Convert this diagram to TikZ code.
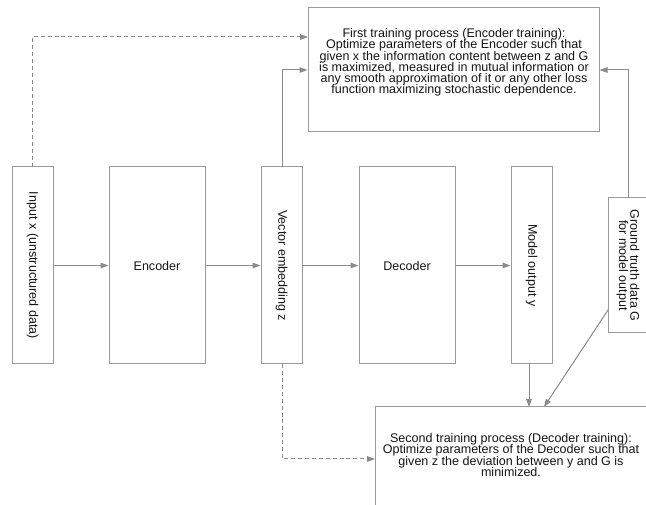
\documentclass[tikz,border=0pt]{standalone}
\usepackage{fontspec}
\setmainfont{Liberation Sans}
\usetikzlibrary{arrows.meta}
\definecolor{boxline}{HTML}{9A9A9A}
\definecolor{arrline}{HTML}{8A8A8A}
\definecolor{txtcol}{HTML}{141414}
\newcommand\mytxtfont{\fontsize{9.4pt}{8.45pt}\selectfont\lineskiplimit=-20pt\relax}
\tikzset{
  box/.style={draw=boxline, line width=0.75pt, fill=white, inner sep=0pt},
  txt/.style={text=txtcol, align=center, inner sep=0pt, font=\mytxtfont},
  conn/.style={draw=arrline, line width=0.75pt, -{Triangle[length=6pt,width=4.2pt]}},
  dconn/.style={conn, dash pattern=on 3pt off 2.2pt},
}
\begin{document}
\begin{tikzpicture}[x=0.75pt,y=-0.75pt]
\useasboundingbox (0,0) rectangle (646,505);
\clip (0,0) rectangle (646,505);
% boxes
\node[box, minimum width=291*0.75pt, minimum height=124*0.75pt] (first) at (453.5,70) {};
\node[txt] (firsttext) at (454,62.5) {First training process (Encoder training):\\Optimize parameters of the Encoder such that\\given x the information content between z and G\\is maximized, measured in mutual information or\\any smooth approximation of it or any other loss\\function maximizing stochastic dependence.};

\node[box, minimum width=41*0.75pt, minimum height=197*0.75pt] (input) at (32.5,265.5) {};
\node[txt, rotate=-90] (inputtext) at (32.5,265.5) {Input x (unstructured data)};

\node[box, minimum width=96*0.75pt, minimum height=197*0.75pt] (enc) at (157,265.5) {};
\node[txt] (enctext) at (157,266) {Encoder};

\node[box, minimum width=41*0.75pt, minimum height=197*0.75pt] (vec) at (281.5,265.5) {};
\node[txt, rotate=-90] (vectext) at (281.5,265.5) {Vector embedding z};

\node[box, minimum width=96*0.75pt, minimum height=197*0.75pt] (dec) at (407,265.5) {};
\node[txt] (dectext) at (407,266) {Decoder};

\node[box, minimum width=41*0.75pt, minimum height=197*0.75pt] (model) at (531.5,265.5) {};
\node[txt, rotate=-90] (modeltext) at (531.5,265.5) {Model output y};

\node[box, minimum width=40*0.75pt, minimum height=135*0.75pt] (gt) at (628,265.5) {};
\node[txt, rotate=-90] (gttext) at (628,265.5) {Ground truth data G\\for model output};

\node[box, minimum width=272*0.75pt, minimum height=130*0.75pt] (second) at (511,472) {};
\node[txt] (secondtext) at (511,455) {Second training process (Decoder training):\\Optimize parameters of the Decoder such that\\given z the deviation between y and G is\\minimized.};

% coordinates
\coordinate (inTop) at (32,167);
\coordinate (c1) at (32,37);
\coordinate (t1) at (308,37);
\coordinate (vecTop) at (282,167);
\coordinate (c2) at (282,70);
\coordinate (vecBot) at (282,364);
\coordinate (c3) at (282,459);
\coordinate (t3) at (375,459);
\coordinate (gtTop) at (628,198);
\coordinate (c4) at (628,70);
\coordinate (modelBot) at (529,364);
\coordinate (t5) at (529,407);
\coordinate (gtLeft) at (608,310);
\coordinate (t6) at (544,407);

% connectors
\draw[conn] (input.east) -- (enc.west);
\draw[conn] (enc.east) -- (vec.west);
\draw[conn] (vec.east) -- (dec.west);
\draw[conn] (dec.east) -- (model.west);
\draw[dconn] (inTop) -- (c1) -- (t1);
\draw[conn] (vecTop) -- (c2) -- (first.west |- c2);
\draw[conn] (gtTop) -- (c4) -- (first.east |- c4);
\draw[conn] (modelBot) -- (t5);
\draw[conn] (gtLeft) -- (t6);
\draw[dconn] (vecBot) -- (c3) -- (t3);
\end{tikzpicture}
\end{document}
